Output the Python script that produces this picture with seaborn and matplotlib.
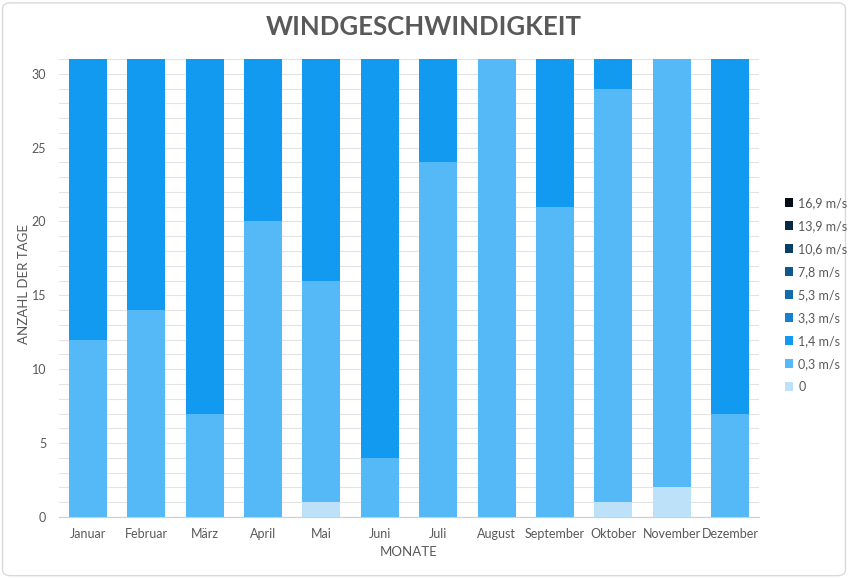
import matplotlib
matplotlib.use("Agg")
import matplotlib.pyplot as plt
from matplotlib.patches import Patch, FancyBboxPatch
import numpy as np
import pandas as pd
import seaborn as sns

months = ["Januar", "Februar", "März", "April", "Mai", "Juni", "Juli",
          "August", "September", "Oktober", "November", "Dezember"]
series_names = ["0", "0,3 m/s", "1,4 m/s", "3,3 m/s", "5,3 m/s",
                "7,8 m/s", "10,6 m/s", "13,9 m/s", "16,9 m/s"]
v_0 = [0, 0, 0, 0, 1, 0, 0, 0, 0, 1, 2, 0]
v_03 = [12, 14, 7, 20, 15, 4, 24, 31, 21, 28, 29, 7]
v_14 = [19, 17, 24, 11, 15, 27, 7, 0, 10, 2, 0, 24]
v_33 = [0] * 12
v_53 = [0] * 12
v_78 = [0] * 12
v_106 = [0] * 12
v_139 = [0] * 12
v_169 = [0] * 12
series_values = [v_0, v_03, v_14, v_33, v_53, v_78, v_106, v_139, v_169]
colors = ["#BDE1F9", "#56B9F7", "#129AF0", "#1681CE", "#116CAE",
          "#0C5990", "#093F66", "#062A46", "#030D16"]

sns.set_theme(style="white")
plt.rcParams["font.family"] = ["Lato", "DejaVu Sans"]

fig = plt.figure(figsize=(8.48, 5.78), dpi=100)
ax = fig.add_axes([0.0693, 0.1055, 0.826, 0.7925])

bottom = np.zeros(len(months))
for name, vals, col in zip(series_names, series_values, colors):
    df = pd.DataFrame({"Monat": months, "Tage": vals})
    sns.barplot(data=df, x="Monat", y="Tage", color=col, width=0.65,
                bottom=bottom, ax=ax, saturation=1, linewidth=0, zorder=3)
    bottom = bottom + np.array(vals)

ax.set_ylim(0, 31)
ax.set_xlim(-0.5, len(months) - 0.5)
ax.set_yticks(np.arange(0, 31, 5))
ax.set_yticks(np.arange(0, 32, 1), minor=True)
ax.grid(axis="y", which="both", color="#E3E3E3", linewidth=0.8, zorder=0)
for s in ["top", "right", "left"]:
    ax.spines[s].set_visible(False)
ax.spines["bottom"].set_color("#D0D0D0")
ax.spines["bottom"].set_linewidth(0.9)
ax.tick_params(axis="both", which="both", length=0, labelsize=9,
               labelcolor="#595959", pad=8)
ax.tick_params(axis="y", pad=9)
ax.set_xlabel("MONATE", fontsize=9.5, color="#595959", labelpad=4)
ax.set_ylabel("")
fig.text(24 / 848, 1 - 284 / 578, "ANZAHL DER TAGE", rotation=90,
         ha="center", va="center", fontsize=9.5, color="#595959")

fig.text(0.5, 1 - 27 / 578, "WINDGESCHWINDIGKEIT", ha="center", va="center",
         fontsize=18.5, fontweight="bold", color="#595959")

handles = [Patch(facecolor=c, edgecolor="none") for c in colors][::-1]
labels = series_names[::-1]
leg = fig.legend(handles, labels, loc="center left",
                 bbox_to_anchor=(0.912, 1 - 295 / 578), frameon=False,
                 fontsize=9, handlelength=0.7, handleheight=0.7,
                 handletextpad=0.4, labelspacing=0.88, labelcolor="#595959")

border = FancyBboxPatch((0.003, 0.004), 0.994, 0.991,
                        boxstyle="round,pad=0,rounding_size=0.01",
                        transform=fig.transFigure, facecolor="none",
                        edgecolor="#D9D9D9", linewidth=1.0)
fig.patches.append(border)

fig.savefig("out.png", dpi=100)
